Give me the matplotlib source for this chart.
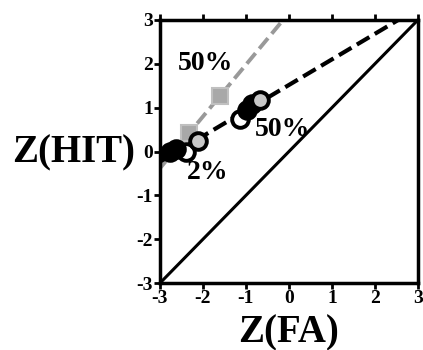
import numpy as np
import matplotlib
matplotlib.use("Agg")
import matplotlib.pyplot as plt

# Data (z-scores)
black_x = [-2.77, -2.62, -0.98, -0.86]
black_y = [0.00, 0.05, 0.95, 1.08]
white_x = [-2.40, -1.14]
white_y = [0.00, 0.75]
gray_x = [-2.11, -0.67]
gray_y = [0.23, 1.18]
square_x = [-2.32, -1.60]
square_y = [0.42, 1.27]
ticks = [-3, -2, -1, 0, 1, 2, 3]
tick_labels = ["-3", "-2", "-1", "0", "1", "2", "3"]

plt.rcParams['font.family'] = ['Liberation Serif', 'DejaVu Serif']
plt.rcParams['font.weight'] = 'bold'

fig = plt.figure(figsize=(4.23, 3.5), dpi=100)
ax = fig.add_axes([0.378, 0.191, 0.61, 0.752])
ax.set_xlim(-3, 3)
ax.set_ylim(-3, 3)

xs = np.linspace(-3, 3, 200)
# diagonal chance line
ax.plot(ticks, ticks, color='black', lw=2.2, zorder=2)

# gray fit through squares
pg = np.polyfit(square_x, square_y, 1)
ax.plot(xs, np.polyval(pg, xs), color='#999999', lw=2.8, ls=(0, (3.5, 1.5)), zorder=2)

# black fit through circles
cx = black_x + white_x + gray_x
cy = black_y + white_y + gray_y
pb = np.polyfit(cx, cy, 1)
ax.plot(xs, np.polyval(pb, xs), color='black', lw=3.0, ls=(0, (3.5, 1.5)), zorder=3)

ax.plot(square_x, square_y, 's', ms=12, mfc='#a8a8a8', mec='#c0c0c0', mew=1.5, zorder=4)
ax.plot(white_x, white_y, 'o', ms=12, mfc='white', mec='black', mew=2.8, zorder=5)
ax.plot(black_x, black_y, 'o', ms=12, mfc='black', mec='black', mew=2.8, zorder=5)
ax.plot(gray_x, gray_y, 'o', ms=12, mfc='#c8c8c8', mec='black', mew=2.8, zorder=6)

ax.text(-1.95, 2.0, "50%", fontsize=20, fontweight='bold', ha='center', va='center')
ax.text(-0.15, 0.5, "50%", fontsize=20, fontweight='bold', ha='center', va='center')
ax.text(-1.9, -0.47, "2%", fontsize=20, fontweight='bold', ha='center', va='center')

for s in ax.spines.values():
    s.set_linewidth(2.5)
ax.set_xticks(ticks)
ax.set_xticklabels(tick_labels)
ax.set_yticks(ticks)
ax.set_yticklabels(tick_labels)
ax.tick_params(axis='both', direction='out', length=4, width=2, labelsize=14, pad=1)
ax.tick_params(axis='x', top=True)
for lab in ax.get_xticklabels() + ax.get_yticklabels():
    lab.set_fontweight('bold')

fig.text(74/423, 1 - 153/350, "Z(HIT)", fontsize=28, fontweight='bold', ha='center', va='center')
fig.text(289/423, 1 - 333/350, "Z(FA)", fontsize=28, fontweight='bold', ha='center', va='center')

fig.savefig("out.png", dpi=100)
